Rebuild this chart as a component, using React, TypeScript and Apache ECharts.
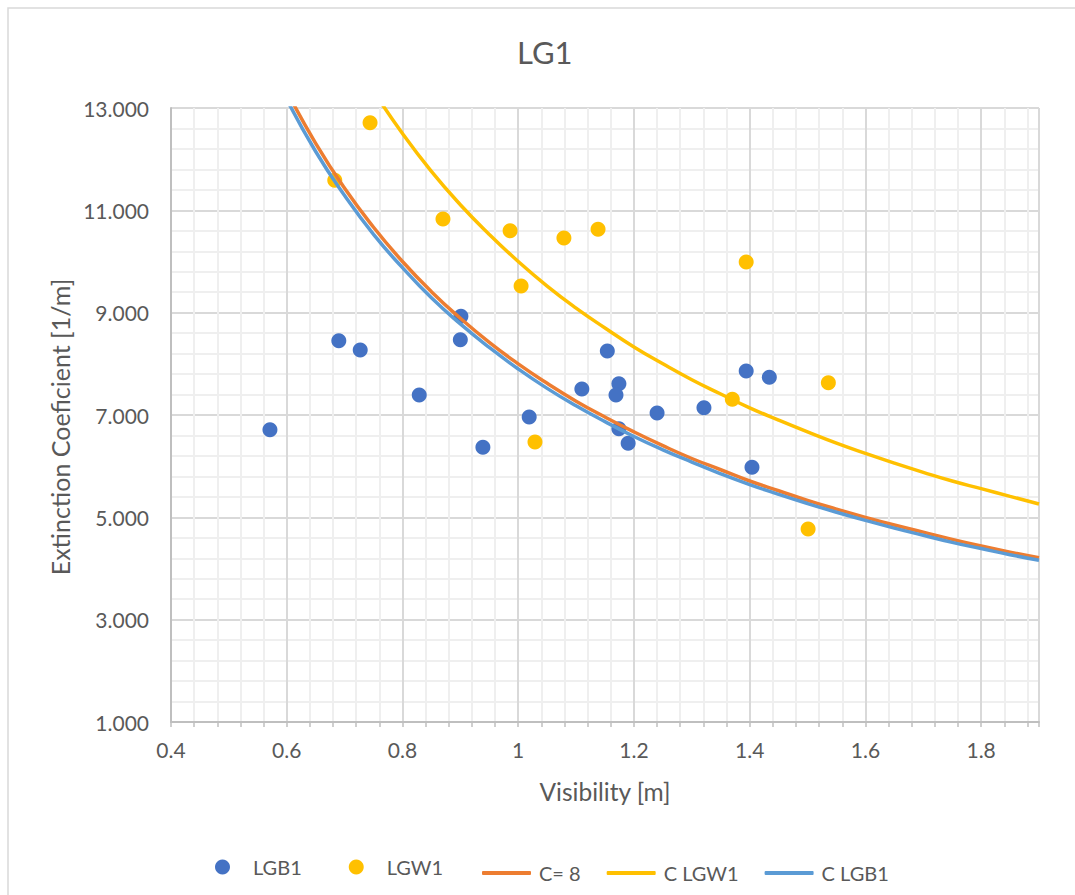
import React, { useEffect, useRef } from "react";
import * as echarts from "echarts";

// ---- data ----
const lgb1X = [0.571, 0.69, 0.727, 0.829, 0.901, 0.9, 0.939, 1.019, 1.11, 1.154, 1.174, 1.169, 1.174, 1.19, 1.24, 1.321, 1.394, 1.434, 1.404];
const lgb1Y = [6.71, 8.45, 8.27, 7.39, 8.93, 8.47, 6.37, 6.96, 7.51, 8.25, 7.61, 7.39, 6.73, 6.45, 7.04, 7.14, 7.86, 7.74, 5.98];

const lgw1X = [0.683, 0.744, 0.87, 0.986, 1.005, 1.029, 1.079, 1.138, 1.394, 1.37, 1.536, 1.501];
const lgw1Y = [11.59, 12.71, 10.83, 10.6, 9.52, 6.47, 10.46, 10.63, 9.99, 7.31, 7.63, 4.77];

const curveX = [0.6, 0.65, 0.7, 0.75, 0.8, 0.85, 0.9, 0.95, 1.0, 1.05, 1.1, 1.15, 1.2, 1.25, 1.3, 1.35, 1.4, 1.45, 1.5, 1.55, 1.6, 1.65, 1.7, 1.75, 1.8, 1.85, 1.9];
const cEightY = [13.33, 12.31, 11.43, 10.67, 10.0, 9.41, 8.89, 8.42, 8.0, 7.62, 7.27, 6.96, 6.67, 6.4, 6.15, 5.93, 5.71, 5.52, 5.33, 5.16, 5.0, 4.85, 4.71, 4.57, 4.44, 4.32, 4.21];
const cLgb1Y = [13.17, 12.15, 11.29, 10.53, 9.88, 9.29, 8.78, 8.32, 7.9, 7.52, 7.18, 6.87, 6.58, 6.32, 6.08, 5.85, 5.64, 5.45, 5.27, 5.1, 4.94, 4.79, 4.65, 4.51, 4.39, 4.27, 4.16];

const lgw1CurveX = [0.75, 0.8, 0.85, 0.9, 0.95, 1.0, 1.05, 1.1, 1.15, 1.2, 1.25, 1.3, 1.35, 1.4, 1.45, 1.5, 1.55, 1.6, 1.65, 1.7, 1.75, 1.8, 1.85, 1.9];
const cLgw1Y = [13.33, 12.5, 11.76, 11.11, 10.53, 10.0, 9.52, 9.09, 8.7, 8.33, 8.0, 7.69, 7.41, 7.14, 6.9, 6.67, 6.45, 6.25, 6.06, 5.88, 5.71, 5.56, 5.41, 5.26];

const chartTitle = "LG1";
const xName = "Visibility [m]";
const yName = "Extinction Coeficient [1/m]";

const TEXT = "#595959";
const FONT = "Lato";

const zip = (xs: number[], ys: number[]) => xs.map((x, i) => [x, ys[i]]);

export default function App() {
  const ref = useRef<HTMLDivElement>(null);

  useEffect(() => {
    const chart = echarts.init(ref.current!, null, { renderer: "svg" });
    const option: any = {
      animation: false,
      backgroundColor: "#ffffff",
      textStyle: { fontFamily: FONT },
      title: {
        text: chartTitle,
        left: 517,
        top: 36,
        padding: 0,
        textStyle: { fontFamily: FONT, fontSize: 31, fontWeight: "normal", color: TEXT },
      },
      graphic: [
        {
          type: "rect",
          silent: true,
          shape: { x: 8, y: 8, width: 1200, height: 1000 },
          style: { fill: "none", stroke: "#d9d9d9", lineWidth: 1.5 },
        },
      ],
      legend: [
        {
          data: ["LGB1", "LGW1"],
          left: 215,
          top: 857,
          padding: 0,
          icon: "circle",
          itemWidth: 15,
          itemHeight: 15,
          itemGap: 47,
          textStyle: { fontFamily: FONT, fontSize: 20, color: TEXT, padding: [0, 0, 0, 18] },
        },
        {
          data: ["C= 8", "C LGW1", "C LGB1"],
          left: 482,
          top: 863,
          padding: 0,
          icon: "roundRect",
          itemWidth: 49,
          itemHeight: 4,
          itemGap: 26,
          textStyle: { fontFamily: FONT, fontSize: 20, color: TEXT, padding: [0, 0, 0, 3] },
        },
      ],
      grid: { left: 171, right: 36, top: 108, bottom: 173, containLabel: false },
      xAxis: [
        {
          // minor grid axis
          type: "value",
          min: 0.4,
          max: 1.9,
          interval: 0.04,
          position: "bottom",
          axisLine: { show: false },
          axisTick: { show: true, length: 5, lineStyle: { color: "#bfbfbf", width: 1.5 } },
          axisLabel: { show: false },
          splitLine: { show: true, lineStyle: { color: "#efefef", width: 2 } },
        },
        {
          type: "value",
          min: 0.4,
          max: 1.9,
          interval: 0.2,
          position: "bottom",
          name: xName,
          nameLocation: "middle",
          nameGap: 57,
          nameTextStyle: { fontFamily: FONT, fontSize: 24.5, color: TEXT },
          axisLine: { show: true, lineStyle: { color: "#bfbfbf", width: 2 } },
          axisTick: { show: false },
          axisLabel: {
            color: TEXT,
            fontFamily: FONT,
            fontSize: 21,
            margin: 17,
            showMaxLabel: false,
            formatter: (v: number) => String(+v.toFixed(2)),
          },
          splitLine: { show: true, lineStyle: { color: "#d9d9d9", width: 2 } },
        },
      ],
      yAxis: {
        type: "value",
        min: 1,
        max: 13,
        interval: 2,
        name: yName,
        nameLocation: "middle",
        nameGap: 96,
        nameTextStyle: { fontFamily: FONT, fontSize: 25, color: TEXT, padding: [0, 24, 0, 0] },
        axisLine: { show: true, lineStyle: { color: "#bfbfbf", width: 2 } },
        axisTick: { show: false },
        axisLabel: {
          color: TEXT,
          fontFamily: FONT,
          fontSize: 21,
          margin: 22,
          formatter: (v: number) => v.toFixed(3),
        },
        splitLine: { show: true, lineStyle: { color: "#d9d9d9", width: 2 } },
        minorTick: { show: false, splitNumber: 5 },
        minorSplitLine: { show: true, lineStyle: { color: "#efefef", width: 2 } },
      },
      series: [
        {
          name: "LGB1",
          type: "scatter",
          xAxisIndex: 1,
          data: zip(lgb1X, lgb1Y),
          symbol: "circle",
          symbolSize: 15,
          itemStyle: { color: "#4472C4", opacity: 1 },
        },
        {
          name: "LGW1",
          type: "scatter",
          xAxisIndex: 1,
          data: zip(lgw1X, lgw1Y),
          symbol: "circle",
          symbolSize: 15,
          itemStyle: { color: "#FFC000", opacity: 1 },
        },
        {
          name: "C= 8",
          type: "line",
          xAxisIndex: 1,
          data: zip(curveX, cEightY),
          smooth: true,
          symbol: "none",
          clip: true,
          lineStyle: { color: "#ED7D31", width: 3.5 },
          itemStyle: { color: "#ED7D31" },
        },
        {
          name: "C LGW1",
          type: "line",
          xAxisIndex: 1,
          data: zip(lgw1CurveX, cLgw1Y),
          smooth: true,
          symbol: "none",
          clip: true,
          lineStyle: { color: "#FFC000", width: 3.5 },
          itemStyle: { color: "#FFC000" },
        },
        {
          name: "C LGB1",
          type: "line",
          xAxisIndex: 1,
          data: zip(curveX, cLgb1Y),
          smooth: true,
          symbol: "none",
          clip: true,
          lineStyle: { color: "#5B9BD5", width: 3.5 },
          itemStyle: { color: "#5B9BD5" },
        },
      ],
    };
    chart.setOption(option);
    return () => chart.dispose();
  }, []);

  return (
    <div
      ref={ref}
      style={{ position: "fixed", left: 0, top: 0, width: 1075, height: 895, background: "#ffffff" }}
    />
  );
}
